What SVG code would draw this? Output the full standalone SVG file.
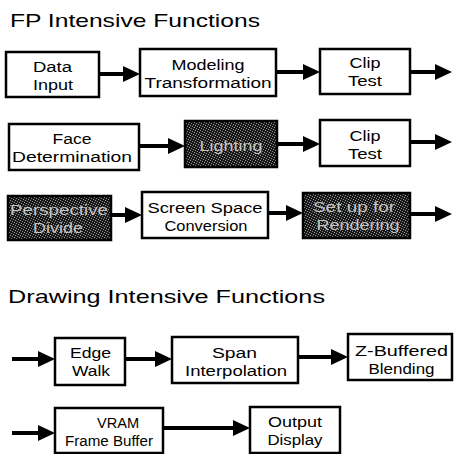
<svg xmlns="http://www.w3.org/2000/svg" width="454" height="454" viewBox="0 0 454 454">
  <defs>
    <!-- speckled dark fill for the shaded stages -->
    <pattern id="stipple" width="5" height="5" patternUnits="userSpaceOnUse">
      <rect width="5" height="5" fill="#181818"/>
      <rect x="0" y="0" width="1" height="1" fill="#9a9a9a"/>
      <rect x="2" y="1" width="1" height="1" fill="#858585"/>
      <rect x="4" y="2" width="1" height="1" fill="#a2a2a2"/>
      <rect x="1" y="3" width="1" height="1" fill="#8a8a8a"/>
      <rect x="3" y="4" width="1" height="1" fill="#969696"/>
    </pattern>
    <marker id="head" markerUnits="userSpaceOnUse" markerWidth="18" markerHeight="17" refX="7" refY="8" orient="auto">
      <path d="M0,0 L17,8 L0,16 Z" fill="#000"/>
    </marker>
  </defs>
  <style>
    .title { font-family: "Liberation Sans", Arial, sans-serif; font-size: 19px; fill: #000; }
    .box { fill: #fff; stroke: #000; stroke-width: 2.5; }
    .dark { fill: url(#stipple); stroke: #000; stroke-width: 2.5; }
    .lbl { font-family: "Liberation Sans", Arial, sans-serif; font-size: 15.5px; fill: #000; text-anchor: middle; }
    .lbl-dark { font-family: "Liberation Sans", Arial, sans-serif; font-size: 15.5px; fill: #c4c4c4; text-anchor: middle; }
    .link { stroke: #000; stroke-width: 4; fill: none; marker-end: url(#head); }
  </style>

  <rect width="454" height="454" fill="#fff"/>

  <text class="title" x="10" y="27" textLength="250" lengthAdjust="spacingAndGlyphs">FP Intensive Functions</text>
  <text class="title" x="8" y="303" textLength="317" lengthAdjust="spacingAndGlyphs">Drawing Intensive Functions</text>

  <!-- connectors -->
  <g id="connectors">
    <line class="link" x1="99" y1="74" x2="130" y2="74"/>
    <line class="link" x1="276" y1="72" x2="310" y2="72"/>
    <line class="link" x1="410" y1="72" x2="442" y2="72"/>

    <line class="link" x1="139" y1="146" x2="175" y2="146"/>
    <line class="link" x1="277" y1="144" x2="310" y2="144"/>
    <line class="link" x1="410" y1="142" x2="442" y2="142"/>

    <line class="link" x1="111" y1="215" x2="132" y2="215"/>
    <line class="link" x1="268" y1="213" x2="293" y2="213"/>
    <line class="link" x1="410" y1="214" x2="442" y2="214"/>

    <line class="link" x1="12" y1="359" x2="45" y2="359"/>
    <line class="link" x1="125" y1="359" x2="162" y2="359"/>
    <line class="link" x1="298" y1="357" x2="338" y2="357"/>

    <line class="link" x1="12" y1="433" x2="45" y2="433"/>
    <line class="link" x1="163" y1="428" x2="240" y2="428"/>
  </g>

  <!-- FP intensive stages -->
  <g id="data-input">
    <rect class="box" x="6" y="52" width="93" height="45"/>
    <text class="lbl" x="52.5" y="72" textLength="39" lengthAdjust="spacingAndGlyphs">Data</text>
    <text class="lbl" x="53" y="90" textLength="40" lengthAdjust="spacingAndGlyphs">Input</text>
  </g>
  <g id="modeling-transformation">
    <rect class="box" x="140" y="49" width="136" height="47"/>
    <text class="lbl" x="208" y="70" textLength="73" lengthAdjust="spacingAndGlyphs">Modeling</text>
    <text class="lbl" x="208" y="88" textLength="127" lengthAdjust="spacingAndGlyphs">Transformation</text>
  </g>
  <g id="clip-test-1">
    <rect class="box" x="320" y="49" width="90" height="45"/>
    <text class="lbl" x="365" y="68" textLength="31" lengthAdjust="spacingAndGlyphs">Clip</text>
    <text class="lbl" x="365" y="86" textLength="34" lengthAdjust="spacingAndGlyphs">Test</text>
  </g>

  <g id="face-determination">
    <rect class="box" x="9" y="124" width="130" height="46"/>
    <text class="lbl" x="72" y="144" textLength="39" lengthAdjust="spacingAndGlyphs">Face</text>
    <text class="lbl" x="72" y="162" textLength="120" lengthAdjust="spacingAndGlyphs">Determination</text>
  </g>
  <g id="lighting">
    <rect class="dark" x="185" y="121" width="92" height="46"/>
    <text class="lbl-dark" x="231" y="151" textLength="63" lengthAdjust="spacingAndGlyphs">Lighting</text>
  </g>
  <g id="clip-test-2">
    <rect class="box" x="320" y="120" width="90" height="46"/>
    <text class="lbl" x="365" y="141" textLength="31" lengthAdjust="spacingAndGlyphs">Clip</text>
    <text class="lbl" x="365" y="159" textLength="34" lengthAdjust="spacingAndGlyphs">Test</text>
  </g>

  <g id="perspective-divide">
    <rect class="dark" x="8" y="196" width="103" height="44"/>
    <text class="lbl-dark" x="59" y="215" textLength="98" lengthAdjust="spacingAndGlyphs">Perspective</text>
    <text class="lbl-dark" x="58" y="233" textLength="50" lengthAdjust="spacingAndGlyphs">Divide</text>
  </g>
  <g id="screen-space-conversion">
    <rect class="box" x="142" y="192" width="126" height="46"/>
    <text class="lbl" x="205" y="213" textLength="115" lengthAdjust="spacingAndGlyphs">Screen Space</text>
    <text class="lbl" x="206" y="231" textLength="83" lengthAdjust="spacingAndGlyphs">Conversion</text>
  </g>
  <g id="setup-for-rendering">
    <rect class="dark" x="303" y="193" width="107" height="45"/>
    <text class="lbl-dark" x="354" y="212" textLength="82" lengthAdjust="spacingAndGlyphs">Set up for</text>
    <text class="lbl-dark" x="358" y="230" textLength="83" lengthAdjust="spacingAndGlyphs">Rendering</text>
  </g>

  <!-- Drawing intensive stages -->
  <g id="edge-walk">
    <rect class="box" x="55" y="338" width="70" height="47"/>
    <text class="lbl" x="90.5" y="358" textLength="41" lengthAdjust="spacingAndGlyphs">Edge</text>
    <text class="lbl" x="91" y="376" textLength="38" lengthAdjust="spacingAndGlyphs">Walk</text>
  </g>
  <g id="span-interpolation">
    <rect class="box" x="172" y="337" width="126" height="46"/>
    <text class="lbl" x="234.5" y="358" textLength="45" lengthAdjust="spacingAndGlyphs">Span</text>
    <text class="lbl" x="236" y="376" textLength="102" lengthAdjust="spacingAndGlyphs">Interpolation</text>
  </g>
  <g id="z-buffered-blending">
    <rect class="box" x="348" y="334" width="104" height="46"/>
    <text class="lbl" x="401.5" y="356" textLength="93" lengthAdjust="spacingAndGlyphs">Z-Buffered</text>
    <text class="lbl" x="401.5" y="374" textLength="66" lengthAdjust="spacingAndGlyphs">Blending</text>
  </g>

  <g id="vram-frame-buffer">
    <rect class="box" x="55" y="408" width="108" height="45"/>
    <text class="lbl" x="118" y="428" textLength="42" lengthAdjust="spacingAndGlyphs">VRAM</text>
    <text class="lbl" x="109" y="446" textLength="88" lengthAdjust="spacingAndGlyphs">Frame Buffer</text>
  </g>
  <g id="output-display">
    <rect class="box" x="250" y="407" width="90" height="46"/>
    <text class="lbl" x="295" y="427" textLength="54" lengthAdjust="spacingAndGlyphs">Output</text>
    <text class="lbl" x="295" y="445" textLength="55" lengthAdjust="spacingAndGlyphs">Display</text>
  </g>
</svg>
